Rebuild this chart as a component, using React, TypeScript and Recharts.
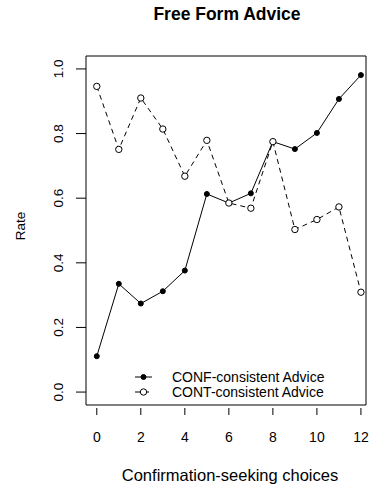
import React from "react"
import {
  LineChart,
  Line,
  XAxis,
  YAxis,
  ReferenceArea,
  Legend,
} from "recharts"

// ── Data ───────────────────────────────────────────────────────────────────

const choices = [0, 1, 2, 3, 4, 5, 6, 7, 8, 9, 10, 11, 12]
const confAdvice = [0.111, 0.335, 0.274, 0.312, 0.376, 0.613, 0.585, 0.615, 0.775, 0.752, 0.802, 0.907, 0.981]
const contAdvice = [0.946, 0.751, 0.91, 0.814, 0.668, 0.779, 0.585, 0.569, 0.775, 0.503, 0.534, 0.573, 0.309]

const xTicks = [0, 2, 4, 6, 8, 10, 12]
const yTicks = [0, 0.2, 0.4, 0.6, 0.8, 1.0]

const data = choices.map((c, i) => ({ c, conf: confAdvice[i], cont: contAdvice[i] }))

// ── Style ──────────────────────────────────────────────────────────────────

const FONT = '"Liberation Sans", Arial, Helvetica, sans-serif'
const INK = "#000"
const W = 372
const H = 484
const DASH = "5 4"

// ── Axis ticks (R-style: rotated y labels, detached x ticks) ───────────────

function XTick({ x, y, payload }: any) {
  return (
    <g>
      <line x1={x} x2={x} y1={y + 3} y2={y + 10} stroke={INK} strokeWidth={1} />
      <text x={x} y={y + 37} textAnchor="middle" fontSize={14} fontFamily={FONT} fill={INK}>
        {payload.value}
      </text>
    </g>
  )
}

function YTick({ x, y, payload }: any) {
  return (
    <g>
      <line x1={x - 10} x2={x} y1={y} y2={y} stroke={INK} strokeWidth={1} />
      <text
        x={x - 23}
        y={y}
        transform={`rotate(-90, ${x - 23}, ${y})`}
        textAnchor="middle"
        fontSize={13.5}
        fontFamily={FONT}
        fill={INK}
      >
        {payload.value.toFixed(1)}
      </text>
    </g>
  )
}

// ── Legend ─────────────────────────────────────────────────────────────────

function LegendBox({ payload }: any) {
  return (
    <svg width={200} height={34} style={{ display: "block" }}>
      {(payload ?? []).map((p: any, i: number) => {
        const cy = 8 + i * 15
        const dashed = p.dataKey === "cont"
        return (
          <g key={p.value}>
            <line
              x1={0}
              x2={17}
              y1={cy}
              y2={cy}
              stroke={INK}
              strokeWidth={1}
              strokeDasharray={dashed ? DASH : undefined}
            />
            <circle
              cx={8.5}
              cy={cy}
              r={dashed ? 3.2 : 2.5}
              fill={dashed ? "#fff" : INK}
              stroke={INK}
              strokeWidth={1}
            />
            <text x={37} y={cy + 5} fontSize={14} fontFamily={FONT} fill={INK}>
              {p.value}
            </text>
          </g>
        )
      })}
    </svg>
  )
}

// ── Chart ──────────────────────────────────────────────────────────────────

export default function App() {
  return (
    <div style={{ position: "absolute", left: 0, top: 0, width: W, height: H, background: "#fff" }}>
      <LineChart
        width={W}
        height={H}
        data={data}
        margin={{ top: 56, right: 6, bottom: 0, left: 0 }}
      >
        <XAxis
          dataKey="c"
          type="number"
          domain={[-0.49, 12.23]}
          ticks={xTicks}
          allowDataOverflow
          axisLine={false}
          tickLine={false}
          tickSize={0}
          tickMargin={0}
          height={79}
          tick={<XTick />}
          interval={0}
          label={{
            content: () => (
              <text x={230} y={481} textAnchor="middle" fontSize={16.5} fontFamily={FONT} fill={INK}>
                Confirmation-seeking choices
              </text>
            ),
          }}
        />
        <YAxis
          type="number"
          domain={[-0.04, 1.04]}
          ticks={yTicks}
          allowDataOverflow
          axisLine={false}
          tickLine={false}
          tickSize={0}
          tickMargin={0}
          width={86}
          tick={<YTick />}
          interval={0}
          label={{
            content: () => (
              <text
                x={25}
                y={226}
                transform="rotate(-90, 25, 226)"
                textAnchor="middle"
                fontSize={13.5}
                fontFamily={FONT}
                fill={INK}
              >
                Rate
              </text>
            ),
          }}
        />
        {/* plot frame */}
        <ReferenceArea
          x1={-0.49}
          x2={12.23}
          y1={-0.04}
          y2={1.04}
          fill="none"
          stroke={INK}
          strokeWidth={1}
          ifOverflow="visible"
        />
        <Line
          dataKey="conf"
          name="CONF-consistent Advice"
          stroke={INK}
          strokeWidth={1}
          dot={{ r: 2.5, fill: INK, stroke: INK, strokeWidth: 1 }}
          activeDot={false}
          isAnimationActive={false}
        />
        <Line
          dataKey="cont"
          name="CONT-consistent Advice"
          stroke={INK}
          strokeWidth={1}
          strokeDasharray={DASH}
          dot={{ r: 3.2, fill: "#fff", stroke: INK, strokeWidth: 1, strokeDasharray: "0" }}
          activeDot={false}
          isAnimationActive={false}
        />
        {/* legend sits inside the plot, so it must not take layout space */}
        <Legend
          content={<LegendBox />}
          layout="vertical"
          align="center"
          verticalAlign="middle"
          wrapperStyle={{ position: "absolute", left: 135, top: 369, width: 200, height: 34 }}
        />
        <text
          x={227}
          y={19.5}
          textAnchor="middle"
          fontSize={17.5}
          fontWeight="bold"
          fontFamily={FONT}
          fill={INK}
        >
          Free Form Advice
        </text>
      </LineChart>
    </div>
  )
}
